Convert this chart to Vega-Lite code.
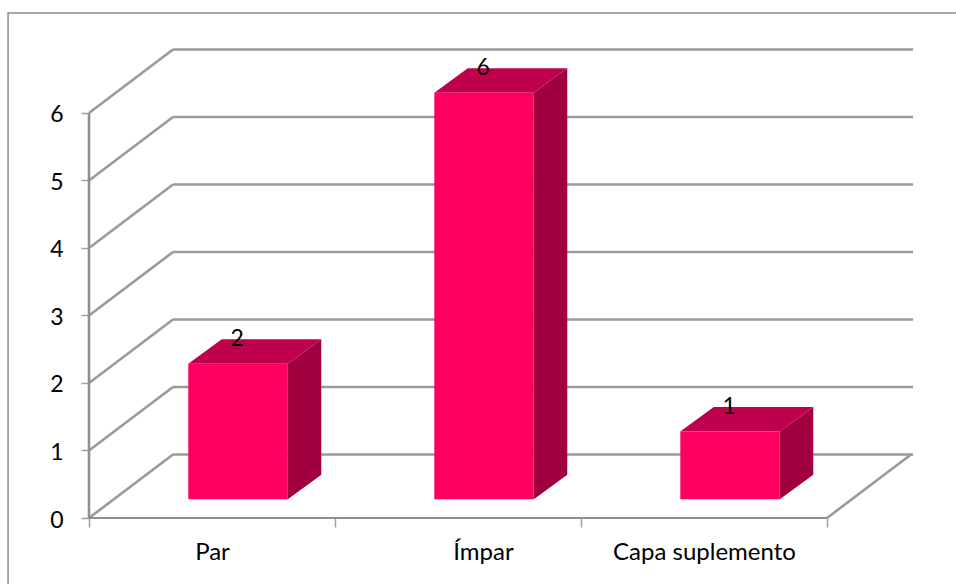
{
"$schema":"https://vega.github.io/schema/vega-lite/v6.json",
"width":824,"height":468,"autosize":"none",
"padding":{"left":89,"top":50,"right":43,"bottom":66},
"background":"white",
"view":{"stroke":null},
"config":{"font":"Lato"},
"datasets":{
"bars":[{"category":"Par","value":2},{"category":"Ímpar","value":6},{"category":"Capa suplemento","value":1}],
"levels":[{"level":0},{"level":1},{"level":2},{"level":3},{"level":4},{"level":5},{"level":6}],
"one":[{"a":1}]
},
"resolve":{"scale":{"x":"independent"},"axis":{"x":"independent","y":"independent"}},
"layer":[
{"layer":[
{"data":{"name":"one"},"mark":{"type":"rect","fill":null,"stroke":"#8c8c8c","strokeWidth":1.5},
"encoding":{
"x":{"datum":-0.329,"type":"quantitative","scale":{"domain":[0,3.3496],"nice":false,"zero":false},"axis":null},
"x2":{"datum":4},
"y":{"datum":7.481,"type":"quantitative","scale":{"domain":[0,6.9333],"nice":false,"zero":false},"axis":null},
"y2":{"datum":-2}}},
{"data":{"name":"levels"},"transform":[{"calculate":"datum.level+0.94","as":"back"}],
"mark":{"type":"rule","stroke":"#9a9a9a","strokeWidth":2.6},
"encoding":{
"x":{"datum":0,"type":"quantitative","axis":null},"x2":{"datum":0.3415},
"y":{"field":"level","type":"quantitative","axis":null},
"y2":{"field":"back"}}},
{"data":{"name":"levels"},"transform":[{"calculate":"datum.level+0.94","as":"back"}],
"mark":{"type":"rule","stroke":"#9a9a9a","strokeWidth":2.6},
"encoding":{
"x":{"datum":0.3415,"type":"quantitative","axis":null},"x2":{"datum":3.3496},
"y":{"field":"back","type":"quantitative","axis":null}}},
{"data":{"name":"one"},"mark":{"type":"rule","stroke":"#8f8f8f","strokeWidth":2.6},
"encoding":{"x":{"datum":0,"type":"quantitative","axis":null},"y":{"datum":0,"type":"quantitative","axis":null},"y2":{"datum":6}}},
{"data":{"name":"one"},"mark":{"type":"rule","stroke":"#8f8f8f","strokeWidth":2.2},
"encoding":{"x":{"datum":0,"type":"quantitative","axis":null},"x2":{"datum":3},"y":{"datum":0,"type":"quantitative","axis":null}}},
{"data":{"name":"one"},"mark":{"type":"rule","stroke":"#9a9a9a","strokeWidth":2.6},
"encoding":{"x":{"datum":3,"type":"quantitative","axis":null},"x2":{"datum":3.3415},"y":{"datum":0,"type":"quantitative","axis":null},"y2":{"datum":0.94}}},
{"data":{"name":"bars"},
"transform":[
{"calculate":"indexof(['Par','Ímpar','Capa suplemento'],datum.category)+0.4037","as":"x0"},
{"calculate":"datum.x0+0.4045","as":"x1"},
{"calculate":"0.277+datum.value*1.004","as":"yt"},
{"calculate":"0","as":"front"},{"calculate":"1","as":"rear"},
{"fold":["front","rear"],"as":["end","t"]},
{"calculate":"datum.x1+datum.t*0.136","as":"sx"},
{"calculate":"0.277+datum.t*0.363","as":"sy"},
{"calculate":"datum.yt+datum.t*0.363","as":"sy2"}],
"mark":{"type":"area","orient":"vertical","fill":"#a0003f","interpolate":"linear"},
"encoding":{"x":{"field":"sx","type":"quantitative","axis":null},"y":{"field":"sy","type":"quantitative","axis":null},"y2":{"field":"sy2"},"detail":{"field":"category"}}},
{"data":{"name":"bars"},
"transform":[
{"calculate":"indexof(['Par','Ímpar','Capa suplemento'],datum.category)+0.4037","as":"x0"},
{"calculate":"datum.x0+0.4045","as":"x1"},
{"calculate":"0.277+datum.value*1.004","as":"yt"},
{"calculate":"0","as":"front"},{"calculate":"1","as":"rear"},
{"fold":["front","rear"],"as":["end","t"]},
{"calculate":"datum.x0+datum.t*0.136","as":"tx"},
{"calculate":"datum.x1+datum.t*0.136","as":"tx2"},
{"calculate":"datum.yt+datum.t*0.363","as":"ty"}],
"mark":{"type":"area","orient":"horizontal","fill":"#bf004d","interpolate":"linear"},
"encoding":{"y":{"field":"ty","type":"quantitative","axis":null},"x":{"field":"tx","type":"quantitative","axis":null},"x2":{"field":"tx2"},"detail":{"field":"category"}}},
{"data":{"name":"bars"},
"transform":[
{"calculate":"indexof(['Par','Ímpar','Capa suplemento'],datum.category)+0.4037","as":"x0"},
{"calculate":"datum.x0+0.4045","as":"x1"},
{"calculate":"0.277+datum.value*1.004","as":"yt"},
{"calculate":"0.277","as":"yb"}],
"mark":{"type":"rect","fill":"#ff0060"},
"encoding":{"x":{"field":"x0","type":"quantitative","axis":null},"x2":{"field":"x1"},"y":{"field":"yb","type":"quantitative","axis":null},"y2":{"field":"yt"}}},
{"data":{"name":"bars"},
"transform":[
{"calculate":"indexof(['Par','Ímpar','Capa suplemento'],datum.category)+0.6025","as":"xc"},
{"calculate":"0.277+datum.value*1.004+0.363","as":"yl"}],
"mark":{"type":"text","fontSize":23,"font":"Lato","color":"#000000","baseline":"middle","align":"center"},
"encoding":{"x":{"field":"xc","type":"quantitative","axis":null},"y":{"field":"yl","type":"quantitative","axis":null},"text":{"field":"value","type":"quantitative"}}}
]},
{"data":{"name":"bars"},
"mark":{"type":"text","opacity":0},
"encoding":{
"x":{"field":"category","type":"nominal","sort":null,"scale":{"type":"band","range":[0,738],"paddingInner":0,"paddingOuter":0},
"axis":{"orient":"bottom","title":null,"domain":false,"tickBand":"extent","tickColor":"#a0a0a0","tickWidth":1.5,"tickSize":9,"labelAngle":0,"labelPadding":13,"labelFontSize":24,"labelLimit":300,"labelColor":"#000000","labelFont":"Lato","labelBaseline":"top",
"labelOffset":{"expr":"datum.value=='Ímpar'?25:0"}}},
"y":{"field":"value","type":"quantitative","axis":{"orient":"left","grid":false,"values":[0,1,2,3,4,5,6],"format":"d","title":null,"domain":false,"tickColor":"#a0a0a0","tickWidth":1.5,"tickSize":8,"labelPadding":18,"labelFontSize":23,"labelColor":"#000000","labelFont":"Lato","labelOffset":2}},
"text":{"field":"category"}}}
]
}
